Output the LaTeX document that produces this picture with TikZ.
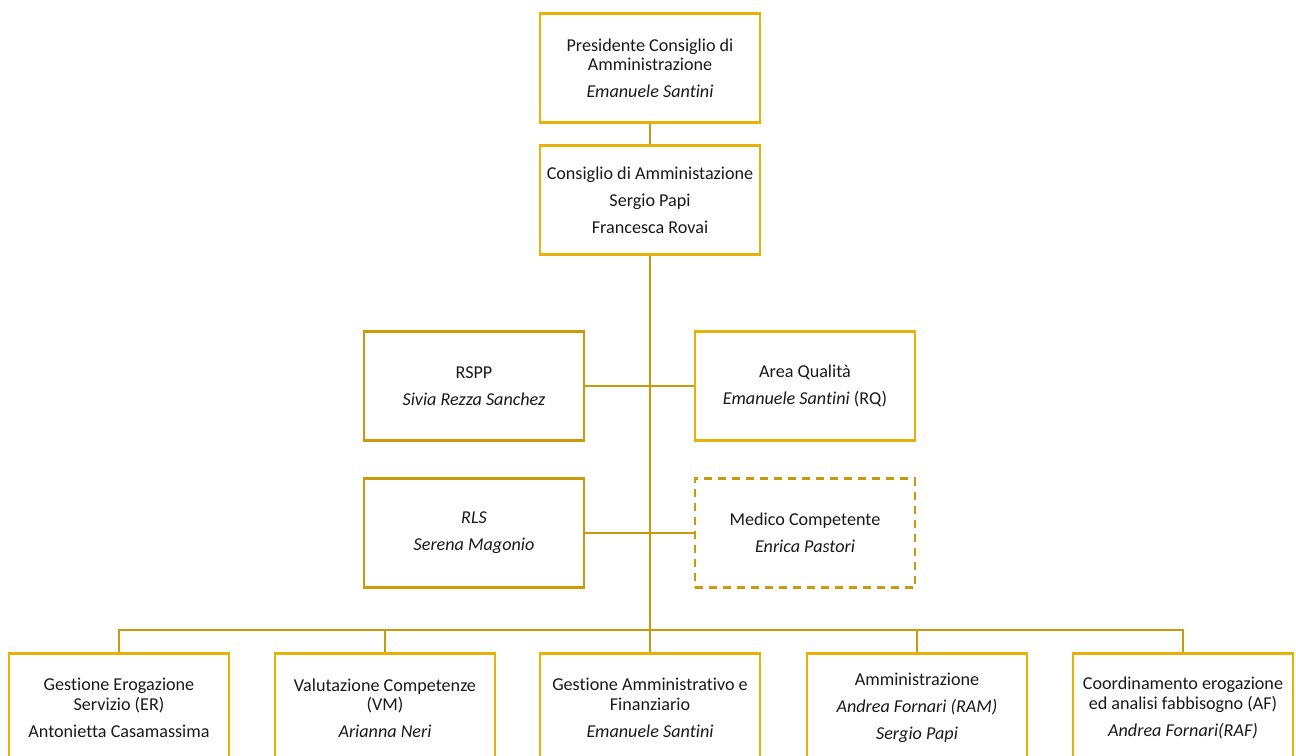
\documentclass[tikz,border=0pt]{standalone}
\usepackage{fontspec}
\setmainfont[Ligatures=NoCommon]{Carlito}
\usepackage{xcolor}
\usetikzlibrary{positioning}

\definecolor{gold}{HTML}{E8B10A}
\definecolor{darkgold}{HTML}{CB9A0C}
\newcommand{\gap}{\\[6pt]}

\begin{document}
\begin{tikzpicture}[
      x=0.75pt, y=-0.75pt,
      every node/.style={font=\fontsize{13.6}{14.4}\selectfont, align=center, text=black!90},
      box/.style={draw=gold, line width=2.2pt, minimum width=165pt, minimum height=82pt, inner sep=2pt},
      darkbox/.style={box, draw=darkgold},
      dashbox/.style={box, draw=darkgold, dash pattern=on 6pt off 4.5pt},
      link/.style={draw=darkgold, line width=2.2pt}
    ]
      \useasboundingbox (0,0) rectangle (1296,756);

      % top of the chart
      \node[box] (pres) at (650,68) {Presidente Consiglio di\\ Amministrazione\gap \textit{Emanuele Santini}};
      \node[box] (cda) at (650,200) {Consiglio di Amministazione\gap Sergio Papi\gap Francesca Rovai};

      % staff
      \node[darkbox] (rspp) at (474,386) {RSPP\gap \textit{Sivia Rezza Sanchez}};
      \node[box] (qual) at (805,386) {Area Qualità\gap \textit{Emanuele Santini} (RQ)};
      \node[darkbox] (rls) at (474,533) {\textit{RLS}\gap \textit{Serena Magonio}};
      \node[dashbox] (medico) at (805,533) {Medico Competente\gap \textit{Enrica Pastori}};

      % areas
      \node[box] (er) at (119,708) {Gestione Erogazione\\ Servizio (ER)\gap Antonietta Casamassima};
      \node[box] (vm) at (385,708) {Valutazione Competenze\\ (VM)\gap \textit{Arianna Neri}};
      \node[box] (gaf) at (650,708) {Gestione Amministrativo e\\ Finanziario\gap \textit{Emanuele Santini}};
      \node[box] (amm) at (917,708) {Amministrazione\gap \textit{Andrea Fornari (RAM)}\gap \textit{Sergio Papi}};
      \node[box] (af) at (1183,708) {Coordinamento erogazione\\ ed analisi fabbisogno (AF)\gap \textit{Andrea Fornari(RAF)}};

      \coordinate (bus) at (650,630);

      \draw[link] (pres) -- (cda);
      \draw[link] (cda) -- (bus);
      \draw[link] (rspp) -- (qual);
      \draw[link] (rls) -- (medico);
      \foreach \n in {er,vm,gaf,amm,af}
        \draw[link] (\n.north) |- (bus);
    \end{tikzpicture}
\end{document}
